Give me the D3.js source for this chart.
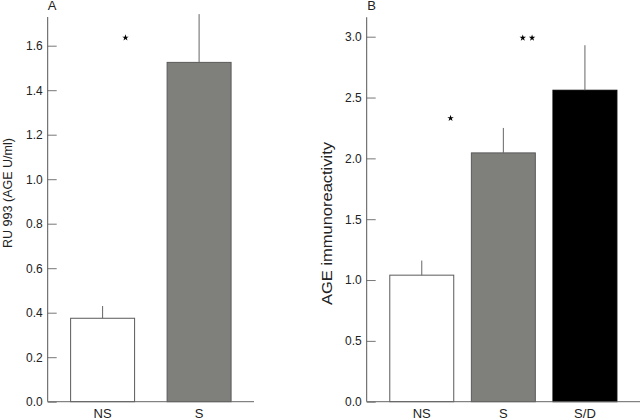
<!DOCTYPE html>
<html>
<head>
<meta charset="utf-8">
<script src="https://cdn.jsdelivr.net/npm/d3@7"></script>
<style>
  html, body { margin: 0; padding: 0; background: #fff; }
  svg { display: block; font-family: "Liberation Sans", Arial, Helvetica, sans-serif; }
</style>
</head>
<body>
<svg id="chart" width="640" height="418"></svg>
<script>
// ---- data ----
const categoriesA = ["NS", "S"];
const valuesA = [0.375, 1.525];
const errorTopsA = [0.43, 1.742];
const ticksA = [0.0, 0.2, 0.4, 0.6, 0.8, 1.0, 1.2, 1.4, 1.6];

const categoriesB = ["NS", "S", "S/D"];
const valuesB = [1.04, 2.045, 2.56];
const errorTopsB = [1.16, 2.25, 2.93];
const ticksB = [0.0, 0.5, 1.0, 1.5, 2.0, 2.5, 3.0];

// significance stars: [from category, to category, fraction between centres, value, count]
const starsA = [["NS", "S", 0.237, 1.636, 1]];
const starsB = [["NS", "S", 0.353, 2.33, 1], ["S", "S/D", 0.295, 2.99, 2]];

const fills = { "NS": "#ffffff", "S": "#7f807c", "S/D": "#000000" };

const svg = d3.select("#chart");

function panel(opts) {
  const { cats, vals, errs, ticks, x0, x1, yMax, yTopVal, innerPad, outerPad,
          title, titleX, titleY, titleSize, titleLen, letter, letterX, stars } = opts;
  const yBottom = 401.7;
  const y = d3.scaleLinear().domain([0, yMax]).range([yBottom, opts.yMaxPx]);
  const x = d3.scaleBand().domain(cats).range([x0, x1])
    .paddingInner(innerPad).paddingOuter(outerPad);
  const g = svg.append("g");

  // bars
  g.selectAll("rect.bar").data(cats).join("rect")
    .attr("x", d => x(d))
    .attr("y", (d, i) => y(vals[i]))
    .attr("width", x.bandwidth())
    .attr("height", (d, i) => y(0) - y(vals[i]))
    .attr("fill", d => fills[d])
    .attr("stroke", d => d === "S/D" ? "#000" : "#5a5a5a")
    .attr("stroke-width", 1);

  // error bars (upper only)
  g.selectAll("line.err").data(cats).join("line")
    .attr("x1", d => x(d) + x.bandwidth() / 2)
    .attr("x2", d => x(d) + x.bandwidth() / 2)
    .attr("y1", (d, i) => y(vals[i]))
    .attr("y2", (d, i) => y(errs[i]))
    .attr("stroke", "#666")
    .attr("stroke-width", 1);

  // y axis
  const ax = d3.axisLeft(y).tickValues(ticks).tickFormat(d3.format(".1f"))
    .tickSizeInner(-9).tickSizeOuter(0).tickPadding(5);
  const ag = g.append("g").attr("transform", `translate(${x0},0)`).call(ax);
  ag.select(".domain").remove();
  ag.selectAll(".tick line").attr("stroke", "#777");
  ag.selectAll(".tick text").attr("fill", "#222").style("font-size", "12px")
    .style("font-family", "Liberation Sans, Arial, sans-serif");
  g.append("line").attr("x1", x0).attr("x2", x0)
    .attr("y1", y(yTopVal)).attr("y2", yBottom)
    .attr("stroke", "#555").attr("stroke-width", 1);
  // x axis
  g.append("line").attr("x1", x0).attr("x2", x1)
    .attr("y1", yBottom).attr("y2", yBottom)
    .attr("stroke", "#666").attr("stroke-width", 1);

  // category labels
  g.selectAll("text.cat").data(cats).join("text")
    .attr("x", d => x(d) + x.bandwidth() / 2)
    .attr("y", 417.5)
    .attr("text-anchor", "middle")
    .attr("fill", "#222")
    .style("font-size", "13px")
    .text(d => d);

  // y title
  g.append("text")
    .attr("transform", `translate(${titleX},${titleY}) rotate(-90)`)
    .attr("text-anchor", "middle")
    .attr("fill", "#222")
    .style("font-size", titleSize + "px")
    .attr("textLength", titleLen)
    .attr("lengthAdjust", "spacingAndGlyphs")
    .text(title);

  // panel letter
  g.append("text").attr("x", letterX).attr("y", 10)
    .attr("text-anchor", "middle").attr("fill", "#222")
    .style("font-size", "13px").text(letter);

  // stars
  const star = d3.symbol().type(d3.symbolStar).size(13);
  stars.forEach(s => {
    const c1 = x(s[0]) + x.bandwidth() / 2, c2 = x(s[1]) + x.bandwidth() / 2;
    const cx = c1 + (c2 - c1) * s[2];
    const n = s[4];
    for (let k = 0; k < n; k++) {
      const off = (k - (n - 1) / 2) * 9.3;
      g.append("path").attr("d", star())
        .attr("transform", `translate(${cx + off},${y(s[3])})`)
        .attr("fill", "#000");
    }
  });
}

panel({
  cats: categoriesA, vals: valuesA, errs: errorTopsA, ticks: ticksA,
  x0: 47.7, x1: 254, yMax: 1.6, yMaxPx: 45.7, yTopVal: 1.729,
  innerPad: 0.337, outerPad: 0.2375,
  title: "RU 993 (AGE U/ml)", titleX: 11.5, titleY: 193, titleSize: 13.5, titleLen: 110,
  letter: "A", letterX: 52, stars: starsA
});

panel({
  cats: categoriesB, vals: valuesB, errs: errorTopsB, ticks: ticksB,
  x0: 366.7, x1: 640, yMax: 3.0, yMaxPx: 36.7, yTopVal: 3.16,
  innerPad: 0.216, outerPad: 0.283,
  title: "AGE immunoreactivity", titleX: 331.5, titleY: 223.5, titleSize: 15.5, titleLen: 163,
  letter: "B", letterX: 371.7, stars: starsB
});
</script>
</body>
</html>
